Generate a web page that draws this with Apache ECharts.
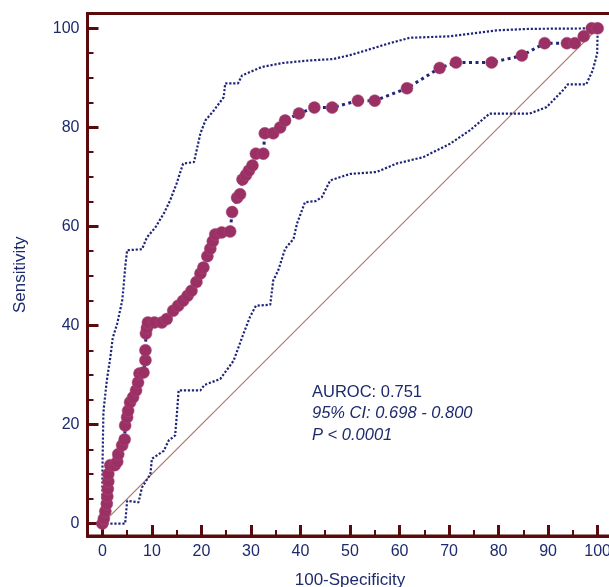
<!DOCTYPE html>
<html>
<head>
<meta charset="utf-8">
<script src="https://cdn.jsdelivr.net/npm/echarts@6/dist/echarts.min.js"></script>
<style>
  html, body { margin: 0; padding: 0; background: #fff; overflow: hidden; }
  #chart { width: 609px; height: 587px; }
</style>
</head>
<body>
<div id="chart"></div>
<script>
// ROC 曲线各点 (100-特异度, 灵敏度)
var rocX = [0, 0.3, 0.6, 0.9, 1, 1.1, 1.2, 1.2, 1.6, 2.5, 3, 3.2, 4, 4.5,
  4.6, 5, 5.2, 5.6, 6.2, 6.8, 7.2, 7.5, 8.3,
  8.7, 8.7, 8.8, 9, 9.2, 10.5, 12, 13, 14.3, 15.3, 16.3, 17.2, 18, 19, 19.8, 20.4,
  21.2, 21.8, 22.3, 22.8, 24.1, 25.8,
  26.2, 27.2, 27.8, 28.3, 29, 29.6, 30.3, 31, 32.5,
  32.8, 34.5, 35.9, 36.9, 39.7, 42.8, 46.4, 51.6, 55, 61.5, 68.1, 71.4, 78.6, 84.7, 89.3, 93.8, 95.4, 97.2, 98.8, 100];
var rocY = [0, 1, 2.5, 4, 5.5, 7, 8.5, 10, 11.8, 11.8, 12.5, 14, 15.8, 17,
  19.8, 21.5, 22.8, 24.5, 25.5, 26.9, 28.5, 30.3, 30.5,
  33, 35, 38.4, 39.5, 40.6, 40.6, 40.6, 41.3, 43, 44, 45, 46, 47, 48.8, 50.5, 51.7,
  54, 55.5, 57, 58.4, 58.8, 59,
  62.9, 65.8, 66.5, 69.5, 70.4, 71.3, 72.3, 74.7, 74.7,
  78.8, 78.8, 80, 81.4, 82.8, 84, 84, 85.4, 85.4, 87.9, 92, 93.1, 93.1, 94.5, 97, 97, 97, 98.4, 100, 100];

// 95% 置信区间上限
var upperX = [0, 0, 0.2, 0.3, 0.9, 1.6, 2.1, 3, 4, 4.3, 4.6, 5, 8, 9, 10.7, 12.5, 13.7, 15, 16.3, 18.5, 19.8, 20.8, 22.5, 24.5, 24.8, 27.4, 28.2, 32.2, 36.4, 41.5, 46.6, 50, 53.4, 58, 62.1, 70.2, 79.6, 86.3, 100];
var upperY = [0, 10, 22, 23.4, 28.9, 33.5, 37.5, 40.4, 45, 48, 51.7, 55.2, 55.4, 57.8, 59.8, 62.8, 65.3, 68.7, 72.7, 73, 78.8, 81.4, 83.4, 86.1, 88.9, 88.9, 90.5, 92.2, 93, 93.5, 93.8, 94.6, 95.6, 97, 98.1, 98.4, 99.6, 99.9, 100];

// 95% 置信区间下限
var lowerX = [0, 0.6, 4.6, 5, 7.3, 8, 9.7, 10, 12.4, 13.4, 14.7, 15.1, 15.4, 19.8, 20.6, 23.8, 26.5, 28.5, 29.8, 31, 33.9, 34.5, 35.5, 36.9, 38.6, 39.3, 40.9, 43, 44.3, 46, 50, 55.4, 59.4, 64.8, 70.2, 74.2, 78.2, 86.3, 89.7, 93, 94, 97.7, 99, 99.9, 100];
var lowerY = [0, 0, 0, 4.6, 4.3, 7.3, 10, 13.1, 14.7, 16.8, 17.8, 22.8, 26.9, 26.9, 28, 29.2, 32.9, 38.4, 41.7, 44, 44.2, 49.1, 51.1, 55.5, 57.5, 60.6, 64.9, 65.1, 65.9, 69.3, 70.6, 71, 72.7, 74, 76.7, 79.4, 82.8, 82.8, 84.1, 87.5, 88.7, 88.7, 91.5, 94.9, 100];

// 对角参考线
var diagX = [0, 100];
var diagY = [0, 100];

// 刻度
var xMajorTicks = [0, 10, 20, 30, 40, 50, 60, 70, 80, 90, 100];
var xMinorTicks = [5, 15, 25, 35, 45, 55, 65, 75, 85, 95];
var yMajorTicks = [0, 20, 40, 60, 80, 100];
var yMinorTicks = [5, 10, 15, 25, 30, 35, 45, 50, 55, 65, 70, 75, 85, 90, 95];

function zip(xs, ys) {
  return xs.map(function (x, i) { return [x, ys[i]]; });
}

var axisColor = '#5a0a0a';
var textColor = '#1d2a6c';
var dotColor = '#1f2578';
var font = 'Liberation Sans, Arial, sans-serif';

var chart = echarts.init(document.getElementById('chart'));

function majorAxis(min, max, ticks, name, gap) {
  return {
    type: 'value', min: min, max: max,
    name: name, nameLocation: 'middle', nameGap: gap,
    nameTextStyle: { color: textColor, fontSize: 17, fontFamily: font },
    axisLine: { show: true, onZero: false, lineStyle: { color: axisColor, width: 3 } },
    axisTick: { show: true, inside: true, length: 11, customValues: ticks, lineStyle: { color: axisColor, width: 3 } },
    axisLabel: { show: true, customValues: ticks, margin: 8, color: textColor, fontSize: 16, fontFamily: font },
    splitLine: { show: false }
  };
}
function minorAxis(min, max, ticks, pos) {
  return {
    type: 'value', min: min, max: max, position: pos,
    axisLine: { show: false, onZero: false },
    axisTick: { show: true, inside: true, length: 6, customValues: ticks, lineStyle: { color: axisColor, width: 2 } },
    axisLabel: { show: false },
    splitLine: { show: false }
  };
}

var xMain = majorAxis(-3, 103, xMajorTicks, '100-Specificity', 36);
xMain.position = 'bottom';
var yMain = majorAxis(-2.5, 103, yMajorTicks, 'Sensitivity', 59);
yMain.position = 'left';

var option = {
  animation: false,
  backgroundColor: '#fff',
  grid: {
    left: 87.5, top: 13.5, width: 525, height: 522.5,
    outerBoundsMode: 'none', containLabel: false,
    show: true, borderColor: axisColor, borderWidth: 3, backgroundColor: 'transparent'
  },
  xAxis: [xMain, minorAxis(-3, 103, xMinorTicks, 'bottom')],
  yAxis: [yMain, minorAxis(-2.5, 103, yMinorTicks, 'left')],
  series: [
    {
      name: 'reference', type: 'line', data: zip(diagX, diagY),
      symbol: 'none', lineStyle: { color: '#b07a6c', width: 1.3 }, z: 1
    },
    {
      name: 'upper', type: 'line', data: zip(upperX, upperY),
      symbol: 'none', lineStyle: { color: dotColor, width: 2.2, type: [2.2, 1.8] }, z: 2
    },
    {
      name: 'lower', type: 'line', data: zip(lowerX, lowerY),
      symbol: 'none', lineStyle: { color: dotColor, width: 2.2, type: [2.2, 1.8] }, z: 2
    },
    {
      name: 'ROC', type: 'line', data: zip(rocX, rocY),
      showSymbol: true, showAllSymbol: true, symbol: 'circle', symbolSize: 12,
      itemStyle: { color: '#9b3064', borderColor: '#a84a78', borderWidth: 0.5 },
      lineStyle: { color: dotColor, width: 3, type: [3, 3.5] }, z: 3
    }
  ],
  graphic: [
    { type: 'text', left: 312, top: 384, style: { text: 'AUROC: 0.751', fill: textColor, font: '16.5px ' + font } },
    { type: 'text', left: 312, top: 405, style: { text: '95% CI: 0.698 - 0.800', fill: textColor, font: 'italic 16.5px ' + font } },
    { type: 'text', left: 312, top: 427, style: { text: 'P < 0.0001', fill: textColor, font: 'italic 16.5px ' + font } }
  ]
};

chart.setOption(option);
</script>
</body>
</html>
